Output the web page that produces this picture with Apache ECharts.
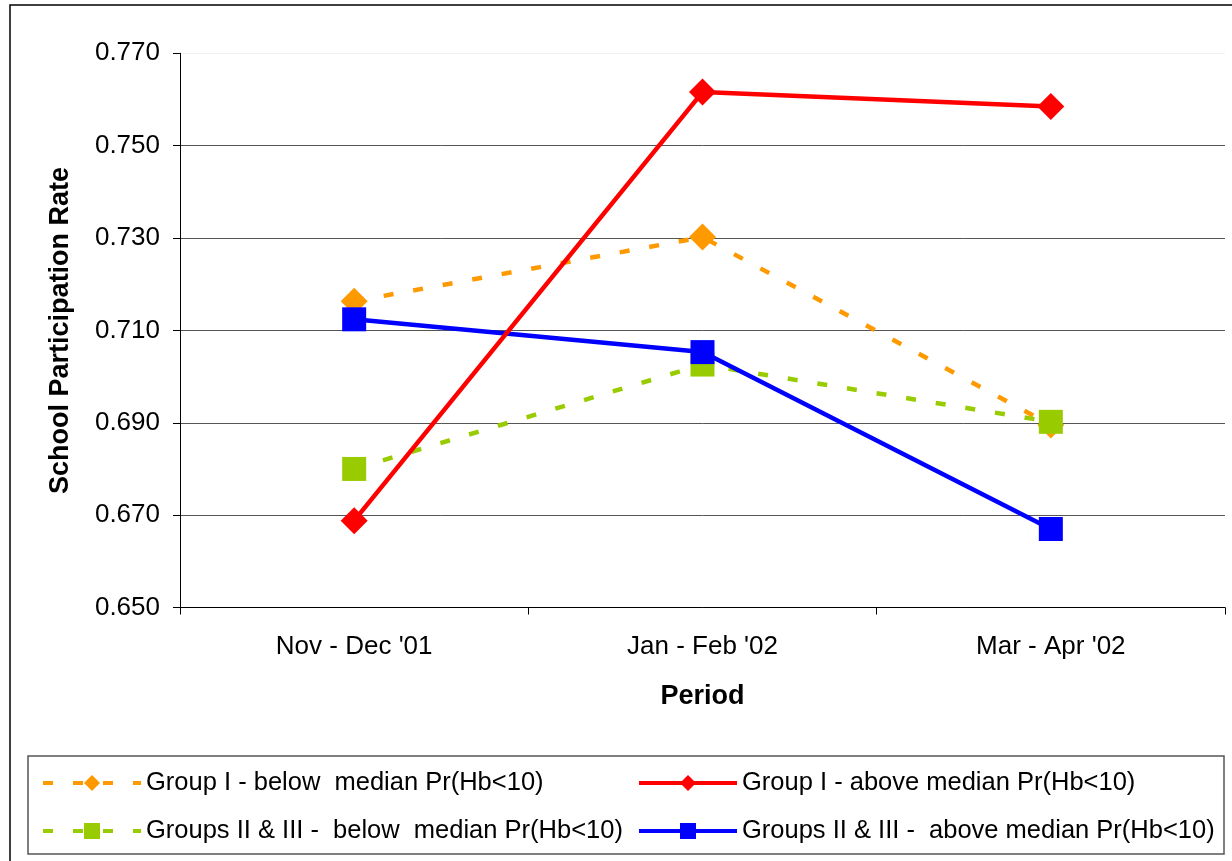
<!DOCTYPE html>
<html>
<head>
<meta charset="utf-8">
<script src="https://cdn.jsdelivr.net/npm/echarts@6/dist/echarts.min.js"></script>
<style>
html,body{margin:0;padding:0;background:#fff;}
#chart{width:1232px;height:861px;}
</style>
</head>
<body>
<div id="chart"></div>
<script>
const categories = ["Nov - Dec '01", "Jan - Feb '02", "Mar - Apr '02"];
const yTicks = [0.650, 0.670, 0.690, 0.710, 0.730, 0.750, 0.770];
const group1Below = [0.7163, 0.7302, 0.6895];
const group1Above = [0.6688, 0.7616, 0.7585];
const groups23Below = [0.6800, 0.7026, 0.6902];
const groups23Above = [0.7124, 0.7053, 0.6670];
const seriesNames = [
  "Group I - below  median Pr(Hb<10)",
  "Group I - above median Pr(Hb<10)",
  "Groups II & III -  below  median Pr(Hb<10)",
  "Groups II & III -  above median Pr(Hb<10)"
];

const FONT = "'Liberation Sans', Arial, sans-serif";
const chart = echarts.init(document.getElementById('chart'), null, {renderer: 'canvas'});

const legendText = {fontFamily: FONT, fontSize: 25.5, color: '#000'};
const legendCommon = {
  orient: 'vertical', top: 765,
  itemWidth: 98, itemHeight: 20, itemGap: 22,
  textStyle: legendText,
  lineStyle: {width: 4}
};

chart.setOption({
  animation: false,
  backgroundColor: '#fff',
  graphic: [
    {type: 'rect', shape: {x: 10, y: 5, width: 1240, height: 870}, style: {fill: 'none', stroke: '#000', lineWidth: 1.5}, z: -1},
    {type: 'rect', shape: {x: 28, y: 756, width: 1196, height: 98}, style: {fill: 'none', stroke: '#555', lineWidth: 1.5}, z: -1}
  ],
  grid: {left: 180, top: 53.3, right: 7, bottom: 253.5, containLabel: false},
  legend: [
    Object.assign({left: 36, data: [seriesNames[0], seriesNames[2]]}, legendCommon),
    Object.assign({left: 632, data: [seriesNames[1], seriesNames[3]]}, legendCommon)
  ],
  xAxis: {
    type: 'category',
    data: categories,
    boundaryGap: true,
    name: 'Period',
    nameLocation: 'middle',
    nameGap: 76,
    nameTextStyle: {fontFamily: FONT, fontSize: 27, fontWeight: 'bold', color: '#000'},
    axisLine: {lineStyle: {color: '#000', width: 1}},
    axisTick: {show: true, length: 7, lineStyle: {color: '#000'}},
    axisLabel: {fontFamily: FONT, fontSize: 26, color: '#000', margin: 26},
    splitLine: {show: false}
  },
  yAxis: {
    type: 'value',
    min: yTicks[0],
    max: yTicks[yTicks.length - 1],
    interval: 0.02,
    name: 'School Participation Rate',
    nameLocation: 'middle',
    nameGap: 106,
    nameTextStyle: {fontFamily: FONT, fontSize: 27, fontWeight: 'bold', color: '#000'},
    axisLine: {show: true, lineStyle: {color: '#000', width: 1}},
    axisTick: {show: true, length: 7, lineStyle: {color: '#000'}},
    axisLabel: {fontFamily: FONT, fontSize: 26, color: '#000', margin: 20,
      formatter: v => v.toFixed(3)},
    splitLine: {show: true, lineStyle: {color: ['#555','#555','#555','#555','#555','#555','#f2f2f2'], width: 1}}
  },
  series: [
    {
      name: seriesNames[0], type: 'line', data: group1Below,
      symbol: 'diamond', symbolSize: 27,
      lineStyle: {color: '#FF9900', width: 4.5, type: [10, 20]},
      itemStyle: {color: '#FF9900'}, z: 2
    },
    {
      name: seriesNames[2], type: 'line', data: groups23Below,
      symbol: 'rect', symbolSize: 24,
      lineStyle: {color: '#99CC00', width: 4.5, type: [10, 20]},
      itemStyle: {color: '#99CC00'}, z: 3
    },
    {
      name: seriesNames[3], type: 'line', data: groups23Above,
      symbol: 'rect', symbolSize: 24,
      lineStyle: {color: '#0000FF', width: 4.5},
      itemStyle: {color: '#0000FF'}, z: 4
    },
    {
      name: seriesNames[1], type: 'line', data: group1Above,
      symbol: 'diamond', symbolSize: 27,
      lineStyle: {color: '#FF0000', width: 4.5},
      itemStyle: {color: '#FF0000'}, z: 5
    }
  ]
});
</script>
</body>
</html>
